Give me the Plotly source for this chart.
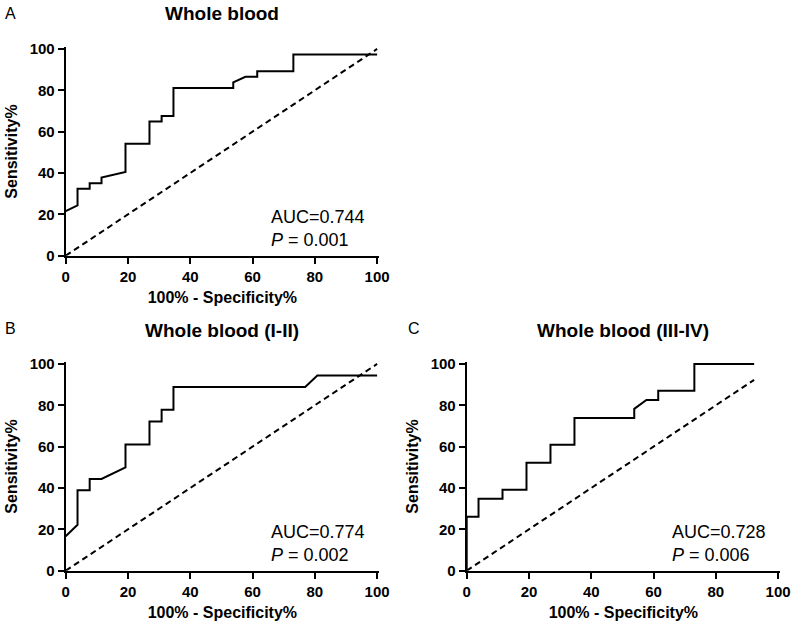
import plotly.graph_objects as go

W, H = 800, 626

# ---------------- data (percent) ----------------
titles = ["Whole blood", "Whole blood (I-II)", "Whole blood (III-IV)"]
panel_letters = ["A", "B", "C"]
auc_texts = ["AUC=0.744", "AUC=0.774", "AUC=0.728"]
p_texts = ["0.001", "0.002", "0.006"]

a_fpr = [0, 3.8, 3.8, 7.7, 7.7, 11.5, 11.5, 19.2, 19.2, 26.9, 26.9, 30.8, 30.8,
         34.6, 34.6, 53.8, 53.8, 57.7, 61.5, 61.5, 73.1, 73.1, 100]
a_sens = [21.6, 24.3, 32.4, 32.4, 35.1, 35.1, 37.8, 40.5, 54.1, 54.1, 64.9, 64.9, 67.6,
          67.6, 81.1, 81.1, 83.8, 86.5, 86.5, 89.2, 89.2, 97.3, 97.3]

b_fpr = [0, 3.8, 3.8, 7.7, 7.7, 11.5, 19.2, 19.2, 26.9, 26.9, 30.8, 30.8, 34.6,
         34.6, 76.9, 80.8, 100]
b_sens = [16.7, 22.2, 38.9, 38.9, 44.4, 44.4, 50.0, 61.1, 61.1, 72.2, 72.2, 77.8, 77.8,
          88.9, 88.9, 94.4, 94.4]

c_fpr = [0, 0, 3.8, 3.8, 11.5, 11.5, 19.2, 19.2, 26.9, 26.9, 34.6, 34.6, 53.8,
         53.8, 57.7, 61.5, 61.5, 73.1, 73.1, 92.3]
c_sens = [0, 26.1, 26.1, 34.8, 34.8, 39.1, 39.1, 52.2, 52.2, 60.9, 60.9, 73.9, 73.9,
          78.3, 82.6, 82.6, 87.0, 87.0, 100, 100]

ref_x = [[0, 100], [0, 100], [0, 92.3]]
ref_y = [[0, 100], [0, 100], [0, 92.3]]

tick_vals = [0, 20, 40, 60, 80, 100]
x_title = "100% - Specificity%"
y_title = "Sensitivity%"

curves = [(a_fpr, a_sens), (b_fpr, b_sens), (c_fpr, c_sens)]

# ---------------- layout geometry (window pixels) ----------------
# (left, right, top, bottom) of each plot area
boxes = [(65.7, 379.0, 47.3, 255.7),
         (65.7, 379.0, 362.3, 570.7),
         (466.7, 780.0, 362.3, 570.7)]
title_pos = [(222, 14), (222, 330), (623, 330)]
letter_pos = [(10, 14), (10, 328), (414, 328)]

FONT = "Liberation Sans, Arial, sans-serif"


def px(v):
    return v / W


def py(v):
    return 1 - v / H


fig = go.Figure()
annotations = []

for i, ((fx, fy), (l, r, t, b)) in enumerate(zip(curves, boxes)):
    sfx = "" if i == 0 else str(i + 1)
    xa, ya = "x" + sfx, "y" + sfx
    fig.add_trace(go.Scatter(x=ref_x[i], y=ref_y[i], mode="lines",
                             line=dict(color="black", width=2, dash="6px,4px"),
                             xaxis=xa, yaxis=ya, showlegend=False, hoverinfo="skip"))
    fig.add_trace(go.Scatter(x=fx, y=fy, mode="lines",
                             line=dict(color="black", width=2),
                             xaxis=xa, yaxis=ya, showlegend=False))
    axis_common = dict(showline=True, linecolor="black", linewidth=2,
                       ticks="outside", ticklen=6, tickwidth=2, tickcolor="black",
                       showgrid=False, zeroline=False, tickvals=tick_vals,
                       automargin=False,
                       tickfont=dict(family=FONT, size=15, color="black", weight="bold"))
    fig.layout["xaxis" + sfx] = dict(
        domain=[px(l), px(r)], anchor=ya, range=[0, 100.6],
        title=dict(text=x_title, standoff=8,
                   font=dict(family=FONT, size=16, color="black", weight="bold")),
        **axis_common)
    fig.layout["yaxis" + sfx] = dict(
        domain=[py(b), py(t)], anchor=xa, range=[0, 100.8],
        title=dict(text=y_title, standoff=8,
                   font=dict(family=FONT, size=16, color="black", weight="bold")),
        **axis_common)

    # AUC and P annotations
    annotations.append(dict(xref=xa, yref=ya, x=65.2, y=18.8, text=auc_texts[i],
                            showarrow=False, xanchor="left", yanchor="middle",
                            font=dict(family=FONT, size=18, color="black")))
    annotations.append(dict(xref=xa, yref=ya, x=65.2, y=7.8,
                            text="<i>P</i> = " + p_texts[i],
                            showarrow=False, xanchor="left", yanchor="middle",
                            font=dict(family=FONT, size=18, color="black")))
    # panel title
    tx, ty = title_pos[i]
    annotations.append(dict(xref="paper", yref="paper", x=px(tx), y=py(ty),
                            text=titles[i], showarrow=False,
                            xanchor="center", yanchor="middle",
                            font=dict(family=FONT, size=19, color="black", weight="bold")))
    lx, ly = letter_pos[i]
    annotations.append(dict(xref="paper", yref="paper", x=px(lx), y=py(ly),
                            text=panel_letters[i], showarrow=False,
                            xanchor="center", yanchor="middle",
                            font=dict(family=FONT, size=16, color="black")))

fig.update_layout(width=W, height=H, margin=dict(l=0, r=0, t=0, b=0),
                  paper_bgcolor="white", plot_bgcolor="white",
                  annotations=annotations, showlegend=False)

# remove the browser's default 8px page margin so the figure fills the window
fig.write_html("out.html",
               config={"displayModeBar": False},
               post_script="document.body.style.margin='0';document.body.style.overflow='hidden';")
